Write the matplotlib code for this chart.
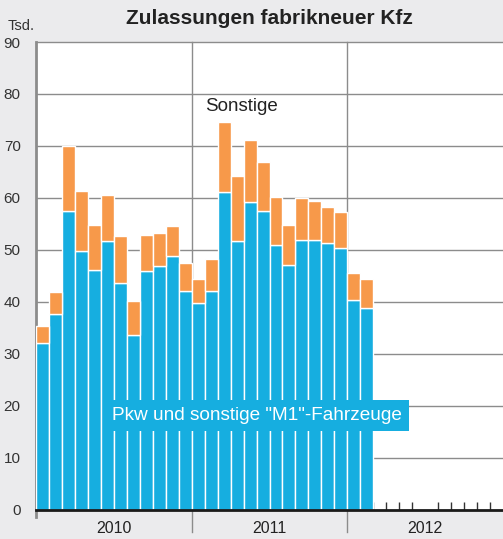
import numpy as np
import matplotlib.pyplot as plt

# monthly registrations Jan 2010 - Feb 2012, in thousands
months = np.arange(26)
pkw = [32.0, 37.7, 57.5, 49.7, 46.2, 51.6, 43.6, 33.6, 46.0, 46.9, 48.8, 42.0,
       39.7, 42.1, 61.1, 51.6, 59.2, 57.5, 51.0, 47.0, 51.9, 51.8, 51.4, 50.4,
       40.3, 38.8]
total = [35.4, 41.8, 70.0, 61.4, 54.7, 60.5, 52.7, 40.1, 52.9, 53.3, 54.6, 47.4,
         44.3, 48.2, 74.6, 64.2, 71.2, 66.9, 60.1, 54.7, 59.9, 59.3, 58.3, 57.2,
         45.5, 44.3]
sonstige = [t - p for t, p in zip(total, pkw)]
years = ["2010", "2011", "2012"]

blue = "#16aee0"
orange = "#f7994a"
bg = "#ebebed"
grid_col = "#8c8c8c"

plt.rcParams["font.family"] = ["Liberation Sans", "DejaVu Sans"]

fig = plt.figure(figsize=(5.03, 5.39), dpi=100, facecolor=bg)
ax = fig.add_axes([36 / 503, 29.5 / 539, 467 / 503, 467.5 / 539])
ax.set_facecolor("white")

ax.bar(months, pkw, width=1.0, color=blue, edgecolor="white", linewidth=1.0, zorder=2)
ax.bar(months, sonstige, bottom=pkw, width=1.0, color=orange, edgecolor="white",
       linewidth=1.0, zorder=2)

ax.set_xlim(-0.5, 35.5)
ax.set_ylim(0, 90)

# horizontal grid
for v in range(10, 90, 10):
    ax.axhline(v, color=grid_col, linewidth=1.0, zorder=0.8)

# year separators and left edge reach below the baseline
for xb in [11.5, 23.5]:
    ax.axvline(xb, ymin=-0.048, ymax=1, color=grid_col, linewidth=1.0,
               zorder=0.8, clip_on=False)
ax.axvline(-0.5, ymin=-0.016, ymax=1, color=grid_col, linewidth=2.0,
           zorder=0.8, clip_on=False)

for s in ["left", "right"]:
    ax.spines[s].set_visible(False)
ax.spines["top"].set_color(grid_col)
ax.spines["top"].set_linewidth(1.0)
ax.spines["bottom"].set_color("#1a1a1a")
ax.spines["bottom"].set_linewidth(2.0)
ax.spines["bottom"].set_zorder(3)

ax.set_yticks(range(0, 100, 10))
ax.tick_params(axis="y", length=0, pad=11, labelsize=11, labelcolor="#333333")
ax.set_xticks([5.5, 17.5, 29.5])
ax.set_xticklabels(years)
ax.tick_params(axis="x", which="major", length=0, pad=8, labelsize=11.5,
               labelcolor="#222222")
ax.set_xticks(np.arange(0.5, 35.5, 1), minor=True)
ax.tick_params(axis="x", which="minor", direction="in", length=5.5, width=1.0,
               color="#333333")
ax.set_axisbelow(True)

ax.text(12.53, 77.6, "Sonstige", fontsize=13.5, color="#222222", va="center",
        ha="left", zorder=4)
ax.text(5.36, 18.1, 'Pkw und sonstige "M1"-Fahrzeuge', fontsize=13.7,
        color="white", va="center", ha="left", zorder=4,
        bbox=dict(boxstyle="square,pad=0.38", facecolor=blue, edgecolor="none"))

fig.text(8 / 503, 1 - 30.5 / 539, "Tsd.", fontsize=10.5, color="#333333",
         ha="left", va="baseline")
fig.text(269.5 / 503, 1 - 24 / 539, "Zulassungen fabrikneuer Kfz", fontsize=15,
         fontweight="bold", color="#222222", ha="center", va="baseline")

fig.savefig("out.png", dpi=100, facecolor=bg)
